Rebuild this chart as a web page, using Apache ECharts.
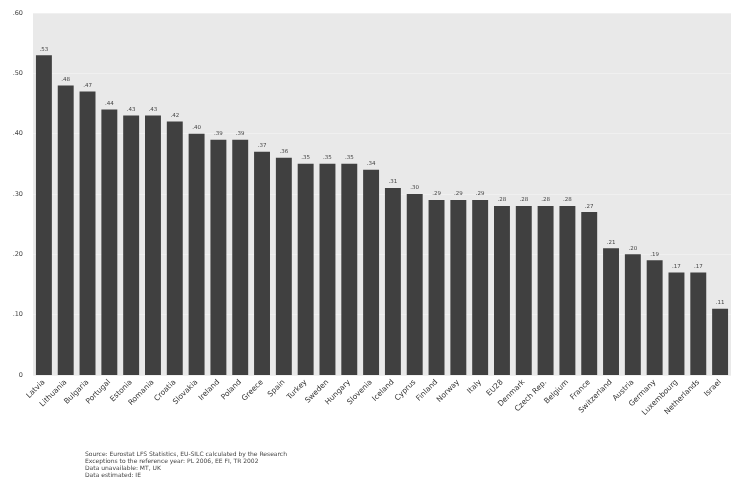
<!DOCTYPE html>
<html>
<head>
<meta charset="utf-8">
<script src="https://cdn.jsdelivr.net/npm/echarts@6/dist/echarts.min.js"></script>
<style>html,body{margin:0;padding:0;background:#fff}#c{width:731px;height:482px}</style>
</head>
<body>
<div id="c"></div>
<script>
const categories = ["Latvia","Lithuania","Bulgaria","Portugal","Estonia","Romania","Croatia","Slovakia","Ireland","Poland","Greece","Spain","Turkey","Sweden","Hungary","Slovenia","Iceland","Cyprus","Finland","Norway","Italy","EU28","Denmark","Czech Rep.","Belgium","France","Switzerland","Austria","Germany","Luxembourg","Netherlands","Israel"];
const values = [0.53,0.48,0.47,0.44,0.43,0.43,0.42,0.40,0.39,0.39,0.37,0.36,0.35,0.35,0.35,0.34,0.31,0.30,0.29,0.29,0.29,0.28,0.28,0.28,0.28,0.27,0.21,0.20,0.19,0.17,0.17,0.11];
const yTicks = [0,0.1,0.2,0.3,0.4,0.5,0.6];
const notes = [
  "Source: Eurostat LFS Statistics, EU-SILC calculated by the Research",
  "Exceptions to the reference year: PL 2006, EE FI, TR 2002",
  "Data unavailable: MT, UK",
  "Data estimated: IE"
];
const fmt = v => v === 0 ? "0" : v.toFixed(2).replace(/^0/, "");
const chart = echarts.init(document.getElementById('c'));
chart.setOption({
  animation:false,
  backgroundColor:'#fff',
  grid:{left:33,right:0,top:13,bottom:107,show:true,backgroundColor:'#e9e9e9',borderWidth:0},
  xAxis:{type:'category',data:categories,
    axisLine:{show:false},axisTick:{show:false},
    axisLabel:{rotate:45,fontSize:7.5,color:'#333',interval:0,margin:6,fontFamily:'DejaVu Sans'}},
  yAxis:{type:'value',min:yTicks[0],max:yTicks[yTicks.length-1],interval:0.1,
    axisLine:{show:false},axisTick:{show:false},
    splitLine:{lineStyle:{color:'#f0f0f0',width:1}},
    axisLabel:{fontSize:6.5,color:'#444',margin:10,formatter:fmt,fontFamily:'DejaVu Sans'}},
  series:[{type:'bar',data:values,barCategoryGap:'27%',
    itemStyle:{color:'#404040'},
    label:{show:true,position:'top',distance:3,fontSize:5.5,color:'#444',formatter:p=>fmt(p.value),fontFamily:'DejaVu Sans'}}],
  title:{text:notes.join('\n'),left:80,top:446,
    textStyle:{fontSize:6,fontWeight:'normal',color:'#444',lineHeight:7,fontFamily:'DejaVu Sans'}}
});
</script>
</body>
</html>
